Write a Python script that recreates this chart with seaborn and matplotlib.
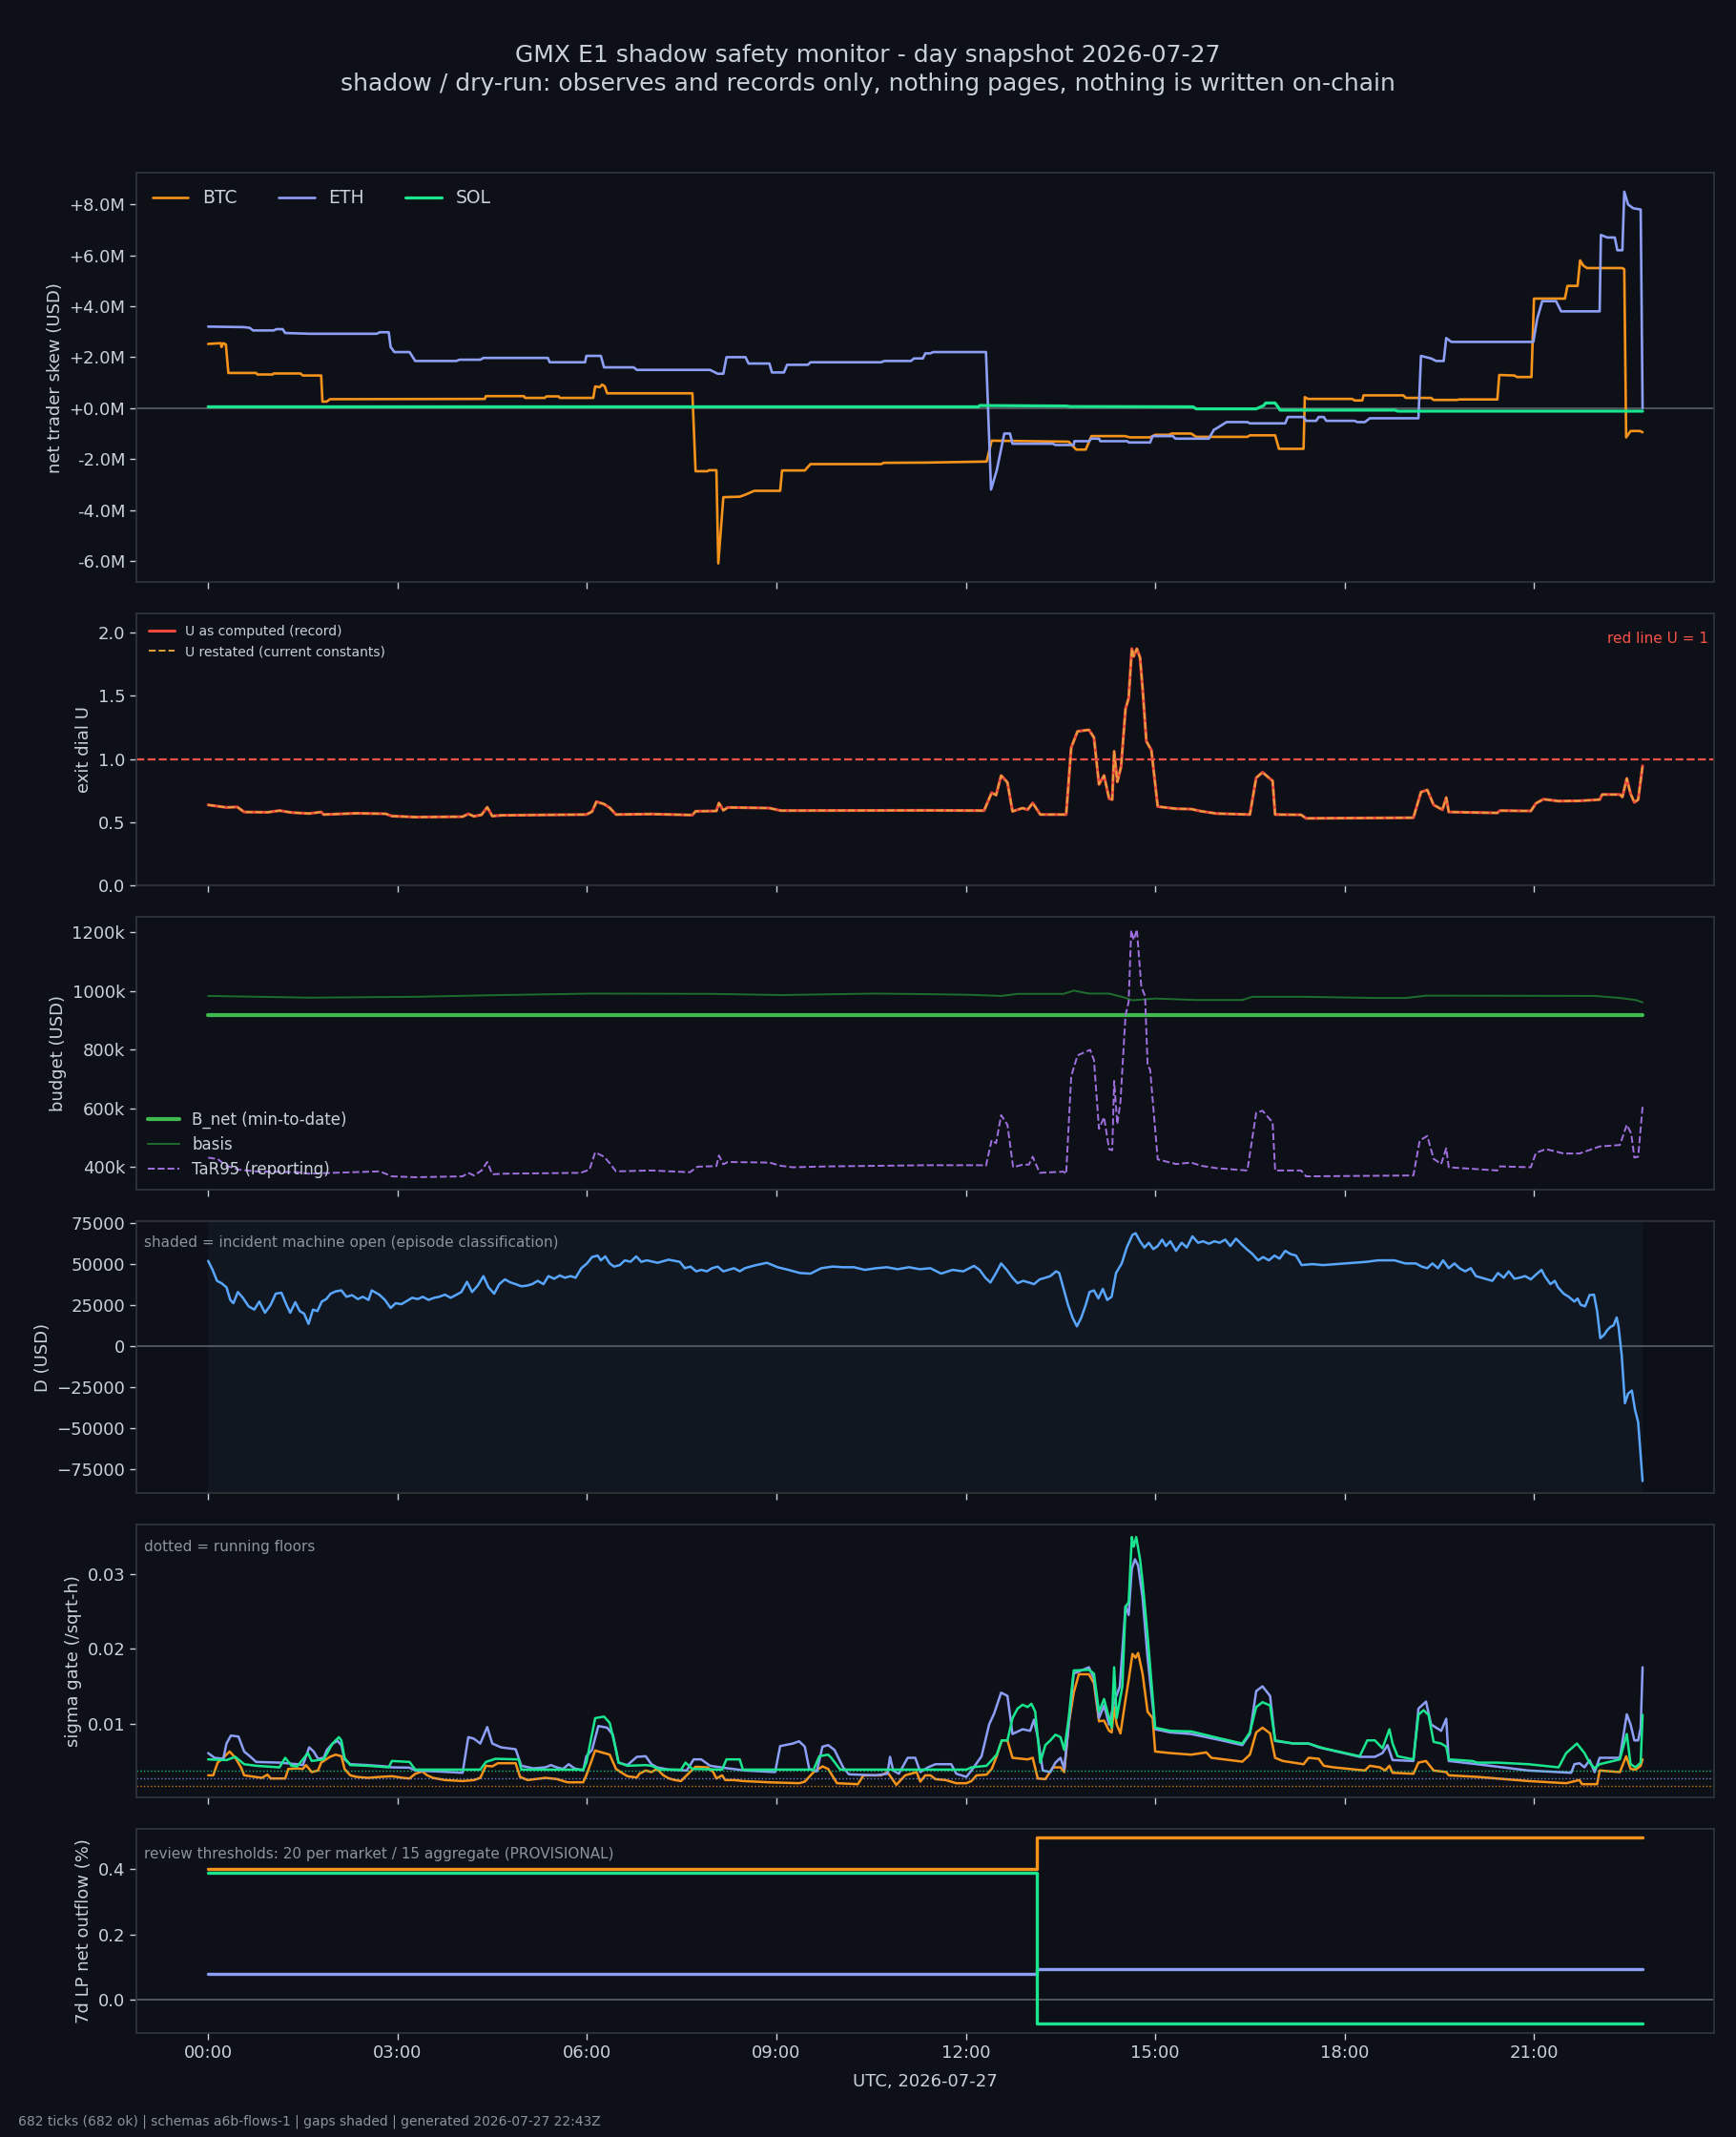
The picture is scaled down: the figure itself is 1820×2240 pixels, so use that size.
import matplotlib
matplotlib.use("Agg")
import matplotlib.pyplot as plt
import seaborn as sns
import pandas as pd
from matplotlib.ticker import FuncFormatter, FixedLocator, MultipleLocator

# ---------------- data (hours since 00:00 UTC, value) ----------------
HOUR_TICKS = [0, 3, 6, 9, 12, 15, 18, 21]
DATA_END_H = 22.72

BTC_SKEW_M = [(0.00, 2.52), (0.20, 2.55), (0.21, 2.40), (0.24, 2.55), (0.28, 2.50), (0.32, 1.38), (0.76, 1.38),
              (0.78, 1.32), (1.02, 1.32), (1.04, 1.36), (1.46, 1.36), (1.50, 1.28), (1.79, 1.28), (1.81, 0.25),
              (1.88, 0.26), (1.93, 0.35), (4.38, 0.36), (4.40, 0.47), (5.00, 0.47), (5.02, 0.40), (5.33, 0.40),
              (5.36, 0.46), (5.55, 0.46), (5.57, 0.40), (6.10, 0.40), (6.13, 0.85), (6.20, 0.82), (6.24, 0.92),
              (6.28, 0.86), (6.32, 0.58), (7.67, 0.58), (7.72, -2.48), (7.91, -2.48), (7.93, -2.44), (8.05, -2.44),
              (8.08, -6.10), (8.16, -3.50), (8.42, -3.48), (8.51, -3.40), (8.65, -3.25), (9.06, -3.25),
              (9.09, -2.45), (9.45, -2.45), (9.54, -2.20), (10.66, -2.20), (10.70, -2.15), (11.39, -2.14),
              (12.33, -2.10), (12.41, -1.28), (13.63, -1.32), (13.75, -1.63), (13.90, -1.63), (13.99, -1.10),
              (14.52, -1.10), (14.60, -1.15), (14.92, -1.15), (15.00, -1.05), (15.22, -1.05), (15.26, -1.00),
              (15.57, -1.00), (15.65, -1.13), (16.46, -1.13), (16.50, -1.07), (16.90, -1.07), (16.96, -1.60),
              (17.35, -1.60), (17.37, 0.43), (17.42, 0.36), (18.12, 0.36), (18.16, 0.30), (18.28, 0.30),
              (18.30, 0.50), (18.93, 0.50), (18.97, 0.40), (19.37, 0.40), (19.41, 0.32), (19.78, 0.32),
              (19.82, 0.34), (20.42, 0.34), (20.45, 1.30), (20.69, 1.28), (20.73, 1.22), (20.96, 1.22),
              (21.00, 4.30), (21.49, 4.30), (21.53, 4.80), (21.69, 4.80), (21.73, 5.80), (21.78, 5.60),
              (21.84, 5.50), (22.40, 5.50), (22.43, 5.45), (22.46, -1.15), (22.53, -0.90), (22.68, -0.90),
              (22.72, -0.95)]

ETH_SKEW_M = [(0.00, 3.20), (0.57, 3.18), (0.66, 3.15), (0.71, 3.05), (1.04, 3.05), (1.08, 3.10), (1.18, 3.10),
              (1.22, 2.95), (1.60, 2.92), (2.67, 2.92), (2.72, 2.98), (2.86, 2.98), (2.89, 2.40), (2.95, 2.20),
              (3.19, 2.20), (3.28, 1.85), (3.93, 1.85), (3.98, 1.90), (4.31, 1.90), (4.36, 1.97), (5.38, 1.97),
              (5.41, 1.80), (5.97, 1.80), (5.99, 2.05), (6.22, 2.05), (6.27, 1.60), (6.74, 1.60), (6.79, 1.50),
              (7.95, 1.50), (8.07, 1.35), (8.16, 1.35), (8.21, 2.00), (8.51, 2.00), (8.56, 1.75), (8.89, 1.75),
              (8.93, 1.40), (9.12, 1.40), (9.17, 1.70), (9.50, 1.70), (9.54, 1.80), (10.66, 1.80), (10.71, 1.85),
              (11.13, 1.85), (11.18, 1.95), (11.32, 1.95), (11.36, 2.15), (11.44, 2.15), (11.48, 2.20),
              (12.32, 2.20), (12.40, -3.20), (12.49, -2.45), (12.61, -1.00), (12.70, -1.00), (12.74, -1.40),
              (13.38, -1.40), (13.42, -1.45), (13.71, -1.45), (13.72, -1.30), (13.95, -1.30), (13.99, -1.20),
              (14.11, -1.20), (14.13, -1.30), (14.56, -1.30), (14.58, -1.35), (14.92, -1.35), (14.96, -1.10),
              (15.28, -1.10), (15.32, -1.20), (15.85, -1.20), (15.93, -0.85), (15.97, -0.80), (16.13, -0.55),
              (16.46, -0.55), (16.50, -0.60), (17.06, -0.60), (17.10, -0.35), (17.35, -0.35), (17.39, -0.50),
              (17.55, -0.50), (17.59, -0.35), (17.67, -0.35), (17.71, -0.50), (18.16, -0.50), (18.20, -0.55),
              (18.32, -0.55), (18.40, -0.40), (19.17, -0.40), (19.21, 2.05), (19.37, 1.95), (19.45, 1.85),
              (19.57, 1.85), (19.61, 2.75), (19.69, 2.60), (20.99, 2.60), (21.05, 3.50), (21.13, 4.20),
              (21.35, 4.20), (21.43, 3.80), (22.04, 3.80), (22.06, 6.80), (22.16, 6.70), (22.28, 6.70),
              (22.32, 6.20), (22.40, 6.20), (22.43, 8.50), (22.49, 8.00), (22.57, 7.85), (22.69, 7.80),
              (22.72, 0.00)]

SOL_SKEW_M = [(0.00, 0.05), (12.20, 0.05), (12.22, 0.10), (13.60, 0.08), (13.65, 0.06), (15.60, 0.05),
              (15.65, -0.03), (16.60, -0.03), (16.72, 0.10), (16.75, 0.20), (16.90, 0.20), (16.98, -0.08),
              (18.80, -0.08), (18.84, -0.12), (22.72, -0.12)]

U_RECORD = [(0.00, 0.638), (0.29, 0.618), (0.46, 0.622), (0.57, 0.582), (0.94, 0.580), (1.13, 0.593),
            (1.32, 0.578), (1.60, 0.570), (1.79, 0.582), (1.83, 0.562), (2.35, 0.572), (2.81, 0.568),
            (2.91, 0.550), (3.28, 0.542), (4.03, 0.545), (4.12, 0.567), (4.21, 0.548), (4.33, 0.560),
            (4.42, 0.620), (4.50, 0.550), (4.64, 0.556), (5.99, 0.562), (6.08, 0.585), (6.15, 0.663),
            (6.27, 0.645), (6.36, 0.615), (6.46, 0.562), (7.02, 0.566), (7.67, 0.558), (7.72, 0.588),
            (8.05, 0.590), (8.09, 0.653), (8.16, 0.595), (8.23, 0.618), (8.89, 0.613), (9.07, 0.593),
            (11.39, 0.595), (12.29, 0.593), (12.41, 0.734), (12.48, 0.715), (12.56, 0.870), (12.66, 0.815),
            (12.74, 0.587), (12.90, 0.613), (12.98, 0.600), (13.06, 0.653), (13.18, 0.562), (13.59, 0.562),
            (13.67, 1.090), (13.77, 1.218), (13.95, 1.230), (14.03, 1.170), (14.11, 0.800), (14.19, 0.870),
            (14.27, 0.688), (14.32, 0.680), (14.35, 1.060), (14.40, 0.820), (14.46, 0.940), (14.53, 1.395),
            (14.58, 1.480), (14.63, 1.870), (14.66, 1.810), (14.71, 1.870), (14.76, 1.800), (14.80, 1.560),
            (14.86, 1.140), (14.94, 1.070), (15.04, 0.625), (15.33, 0.608), (15.57, 0.605), (15.73, 0.588),
            (15.97, 0.570), (16.50, 0.562), (16.60, 0.852), (16.70, 0.895), (16.86, 0.827), (16.90, 0.562),
            (17.31, 0.560), (17.39, 0.532), (19.09, 0.537), (19.21, 0.739), (19.31, 0.756), (19.41, 0.638),
            (19.55, 0.600), (19.61, 0.696), (19.65, 0.582), (20.42, 0.575), (20.46, 0.593), (20.95, 0.590),
            (21.03, 0.650), (21.15, 0.683), (21.39, 0.668), (21.72, 0.670), (22.04, 0.680), (22.08, 0.720),
            (22.36, 0.720), (22.40, 0.700), (22.47, 0.847), (22.53, 0.725), (22.59, 0.658), (22.65, 0.680),
            (22.72, 0.946)]
U_RESTATED = list(U_RECORD)   # restated values coincide with the record on this day
U_RED_LINE = 1.0

B_NET_K = [(0.00, 919), (22.72, 919)]
BASIS_K = [(0.00, 983), (1.60, 977), (3.28, 980), (4.40, 985), (6.08, 991), (7.95, 990), (9.07, 986),
           (10.57, 991), (11.39, 989), (12.01, 987), (12.57, 983), (12.82, 990), (13.55, 990), (13.71, 1001),
           (13.95, 991), (14.27, 991), (14.52, 977), (14.64, 968), (15.00, 974), (15.65, 969), (16.38, 969),
           (16.54, 980), (17.35, 980), (18.48, 976), (18.97, 976), (19.29, 984), (21.96, 983), (22.36, 976),
           (22.61, 969), (22.72, 961)]
TAR95_K = [(0.00, 431), (0.15, 426), (0.29, 403), (0.48, 390), (0.76, 384), (1.41, 381), (1.60, 376),
           (1.97, 379), (2.72, 384), (2.91, 367), (3.28, 364), (4.03, 367), (4.12, 379), (4.21, 370),
           (4.33, 387), (4.42, 416), (4.50, 374), (4.68, 376), (5.90, 379), (6.04, 390), (6.13, 449),
           (6.27, 434), (6.36, 412), (6.46, 384), (7.02, 387), (7.63, 381), (7.75, 400), (8.05, 402),
           (8.09, 438), (8.16, 408), (8.23, 416), (8.89, 414), (9.07, 403), (9.26, 398), (9.82, 401),
           (11.39, 405), (12.25, 405), (12.32, 403), (12.41, 491), (12.48, 480), (12.56, 576), (12.66, 543),
           (12.75, 398), (12.90, 407), (13.00, 407), (13.06, 434), (13.17, 379), (13.55, 383), (13.59, 375),
           (13.67, 709), (13.77, 780), (13.97, 799), (14.03, 764), (14.11, 529), (14.19, 569), (14.27, 460),
           (14.32, 456), (14.35, 693), (14.40, 545), (14.45, 622), (14.53, 917), (14.58, 963), (14.62, 1207),
           (14.66, 1174), (14.71, 1210), (14.78, 1015), (14.84, 982), (14.88, 747), (14.92, 731), (15.04, 425),
           (15.33, 409), (15.57, 414), (15.73, 403), (15.97, 395), (16.46, 387), (16.60, 584), (16.70, 591),
           (16.86, 551), (16.90, 387), (17.31, 387), (17.39, 367), (19.09, 370), (19.19, 489), (19.31, 505),
           (19.41, 427), (19.53, 409), (19.61, 463), (19.65, 398), (20.42, 387), (20.46, 401), (20.95, 398),
           (21.03, 447), (21.19, 460), (21.47, 445), (21.72, 445), (22.04, 469), (22.36, 474), (22.47, 543),
           (22.54, 513), (22.59, 431), (22.65, 434), (22.72, 605)]

D_USD = [(0.00, 52050), (0.07, 46600), (0.14, 39900), (0.21, 38500), (0.29, 36000), (0.35, 28300), (0.40, 26300),
         (0.47, 33100), (0.55, 29600), (0.64, 24400), (0.73, 22400), (0.81, 27300), (0.90, 20500), (0.99, 25300),
         (1.07, 32100), (1.16, 32700), (1.24, 25300), (1.30, 20500), (1.38, 26900), (1.45, 21500), (1.52, 19900),
         (1.59, 13700), (1.66, 22400), (1.73, 21500), (1.80, 27300), (1.87, 28800), (1.94, 32100), (2.02, 33500),
         (2.11, 34100), (2.19, 30200), (2.28, 31200), (2.37, 28800), (2.45, 30200), (2.54, 28300), (2.59, 34100),
         (2.71, 31500), (2.80, 28300), (2.89, 23400), (2.97, 26300), (3.06, 25700), (3.15, 27700), (3.23, 29600),
         (3.32, 28800), (3.40, 30200), (3.49, 28300), (3.58, 29600), (3.66, 30200), (3.75, 31500), (3.84, 29600),
         (3.92, 31200), (4.01, 33100), (4.10, 39300), (4.18, 33100), (4.27, 37000), (4.36, 42800), (4.44, 36000),
         (4.53, 32100), (4.61, 37900), (4.70, 40800), (4.79, 38900), (4.87, 37900), (4.96, 36600), (5.05, 37000),
         (5.13, 37900), (5.22, 39900), (5.31, 37900), (5.39, 42800), (5.48, 41200), (5.57, 43200), (5.65, 41800),
         (5.74, 42800), (5.82, 41800), (5.91, 47600), (6.00, 50500), (6.08, 54400), (6.17, 55300), (6.22, 52400),
         (6.29, 54800), (6.36, 50500), (6.43, 48600), (6.52, 49500), (6.60, 52400), (6.69, 51500), (6.78, 54800),
         (6.86, 51500), (6.95, 52400), (7.12, 50900), (7.29, 52800), (7.47, 51500), (7.55, 47600), (7.64, 48600),
         (7.73, 45700), (7.81, 46600), (7.90, 45700), (7.98, 47600), (8.07, 48600), (8.16, 45700), (8.24, 46600),
         (8.33, 47600), (8.42, 45700), (8.50, 47600), (8.59, 48600), (8.68, 49500), (8.85, 50900), (8.94, 49500),
         (9.02, 48200), (9.19, 46600), (9.37, 44700), (9.54, 44300), (9.71, 47600), (9.89, 48600), (10.06, 48200),
         (10.23, 48200), (10.40, 46600), (10.58, 47600), (10.75, 48200), (10.92, 47000), (11.10, 48200),
         (11.27, 47000), (11.44, 47600), (11.61, 44300), (11.79, 46600), (11.96, 45700), (12.13, 49000),
         (12.22, 46600), (12.31, 41800), (12.39, 38900), (12.48, 44700), (12.56, 50500), (12.65, 46600),
         (12.74, 41800), (12.82, 38500), (12.91, 39900), (13.00, 38900), (13.08, 37900), (13.17, 40800),
         (13.26, 41800), (13.34, 42800), (13.43, 45700), (13.48, 44700), (13.55, 35000), (13.62, 25300),
         (13.69, 17600), (13.76, 12200), (13.83, 17600), (13.90, 25300), (13.96, 33100), (14.03, 34100),
         (14.10, 29200), (14.17, 35000), (14.24, 28300), (14.31, 30200), (14.38, 44700), (14.47, 50500),
         (14.55, 60200), (14.64, 67900), (14.69, 68900), (14.76, 64000), (14.83, 60200), (14.90, 63100),
         (14.97, 59200), (15.04, 61100), (15.11, 65000), (15.17, 61100), (15.24, 64000), (15.33, 58200),
         (15.42, 63100), (15.50, 60200), (15.59, 67000), (15.68, 63100), (15.76, 64000), (15.85, 62500),
         (15.94, 64000), (16.02, 63100), (16.11, 65000), (16.19, 61100), (16.28, 65600), (16.37, 62100),
         (16.45, 59200), (16.54, 56300), (16.63, 52400), (16.71, 54400), (16.80, 52400), (16.89, 55300),
         (16.97, 53400), (17.06, 58200), (17.14, 56300), (17.23, 55300), (17.32, 49500), (17.49, 50100),
         (17.66, 49500), (18.01, 50500), (18.35, 51500), (18.53, 52400), (18.79, 52400), (18.96, 50500),
         (19.13, 50500), (19.22, 48600), (19.31, 47600), (19.39, 50500), (19.48, 47600), (19.56, 52400),
         (19.65, 47600), (19.74, 50500), (19.82, 47600), (19.91, 45700), (20.00, 47600), (20.08, 42800),
         (20.17, 41800), (20.26, 40800), (20.34, 39900), (20.43, 44700), (20.52, 41800), (20.60, 45700),
         (20.69, 41200), (20.77, 41800), (20.86, 42800), (20.95, 40800), (21.03, 43700), (21.12, 46600),
         (21.17, 42800), (21.26, 37900), (21.33, 39900), (21.38, 36000), (21.47, 32100), (21.55, 30200),
         (21.64, 27300), (21.69, 29200), (21.74, 25300), (21.81, 24400), (21.88, 31200), (21.95, 31500),
         (22.00, 21500), (22.05, 5000), (22.11, 7000), (22.16, 9900), (22.21, 11800), (22.26, 12800),
         (22.31, 17600), (22.34, 11800), (22.39, -5600), (22.44, -34600), (22.49, -28800), (22.55, -26900),
         (22.60, -38500), (22.65, -46200), (22.72, -82000)]
EPISODE_OPEN_H = (0.0, 22.72)

SIGMA_BTC = [(0.00, 0.00319), (0.08, 0.00319), (0.15, 0.00488), (0.24, 0.00552), (0.34, 0.00636), (0.43, 0.00552),
             (0.52, 0.00425), (0.57, 0.00319), (0.85, 0.00285), (0.94, 0.00328), (0.99, 0.00277), (1.22, 0.00277),
             (1.27, 0.00404), (1.41, 0.00412), (1.50, 0.00404), (1.55, 0.00455), (1.64, 0.00362), (1.74, 0.00383),
             (1.79, 0.00488), (1.93, 0.00565), (2.02, 0.00594), (2.11, 0.00573), (2.16, 0.00404), (2.25, 0.00319),
             (2.35, 0.00298), (2.53, 0.00285), (2.72, 0.00298), (2.91, 0.00307), (3.09, 0.00285), (3.19, 0.00277),
             (3.28, 0.00340), (3.39, 0.00370), (3.47, 0.00319), (3.56, 0.00285), (3.75, 0.00256), (4.03, 0.00243),
             (4.21, 0.00256), (4.31, 0.00285), (4.40, 0.00446), (4.50, 0.00438), (4.59, 0.00480), (4.87, 0.00480),
             (4.94, 0.00298), (5.06, 0.00256), (5.34, 0.00285), (5.52, 0.00270), (5.69, 0.00226), (5.94, 0.00226),
             (5.99, 0.00319), (6.13, 0.00649), (6.36, 0.00594), (6.46, 0.00404), (6.55, 0.00353), (6.64, 0.00307),
             (6.79, 0.00290), (6.83, 0.00340), (6.93, 0.00383), (7.02, 0.00362), (7.11, 0.00404), (7.21, 0.00319),
             (7.30, 0.00277), (7.39, 0.00256), (7.49, 0.00243), (7.63, 0.00362), (7.72, 0.00433), (7.91, 0.00425),
             (8.00, 0.00362), (8.05, 0.00277), (8.14, 0.00319), (8.19, 0.00256), (8.33, 0.00256), (8.47, 0.00243),
             (8.89, 0.00226), (9.36, 0.00214), (9.45, 0.00235), (9.59, 0.00362), (9.73, 0.00438), (9.82, 0.00404),
             (9.96, 0.00214), (10.29, 0.00201), (10.38, 0.00319), (10.66, 0.00319), (10.76, 0.00362),
             (10.90, 0.00192), (11.04, 0.00319), (11.22, 0.00362), (11.28, 0.00235), (11.36, 0.00319),
             (11.44, 0.00319), (11.52, 0.00268), (11.68, 0.00256), (11.85, 0.00214), (12.01, 0.00214),
             (12.09, 0.00243), (12.17, 0.00319), (12.33, 0.00328), (12.41, 0.00404), (12.49, 0.00573),
             (12.57, 0.00784), (12.66, 0.00784), (12.74, 0.00552), (12.98, 0.00531), (13.06, 0.00552),
             (13.14, 0.00277), (13.26, 0.00268), (13.38, 0.00425), (13.50, 0.00425), (13.56, 0.00362),
             (13.63, 0.00996), (13.71, 0.01419), (13.79, 0.01664), (13.95, 0.01664), (14.03, 0.01545),
             (14.11, 0.01038), (14.19, 0.01047), (14.27, 0.00911), (14.31, 0.00890), (14.35, 0.01228),
             (14.39, 0.00996), (14.45, 0.00877), (14.52, 0.01271), (14.58, 0.01588), (14.64, 0.01934),
             (14.69, 0.01884), (14.73, 0.01947), (14.80, 0.01672), (14.88, 0.01165), (14.96, 0.01080),
             (15.00, 0.00636), (15.24, 0.00615), (15.57, 0.00594), (15.81, 0.00624), (15.89, 0.00552),
             (16.38, 0.00501), (16.50, 0.00594), (16.60, 0.00890), (16.70, 0.00953), (16.82, 0.00877),
             (16.90, 0.00552), (17.02, 0.00510), (17.35, 0.00467), (17.43, 0.00552), (17.59, 0.00539),
             (17.67, 0.00446), (17.83, 0.00425), (18.32, 0.00383), (18.40, 0.00446), (18.56, 0.00425),
             (18.64, 0.00383), (18.71, 0.00446), (18.76, 0.00353), (19.09, 0.00340), (19.17, 0.00488),
             (19.29, 0.00510), (19.41, 0.00383), (19.61, 0.00362), (19.65, 0.00319), (20.10, 0.00298),
             (20.91, 0.00243), (21.51, 0.00214), (21.72, 0.00256), (21.76, 0.00201), (22.00, 0.00201),
             (22.04, 0.00383), (22.36, 0.00362), (22.46, 0.00573), (22.53, 0.00404), (22.61, 0.00395),
             (22.69, 0.00446), (22.72, 0.00531)]

SIGMA_ETH = [(0.00, 0.00615), (0.10, 0.00552), (0.24, 0.00539), (0.29, 0.00742), (0.36, 0.00848), (0.48, 0.00835),
             (0.57, 0.00636), (0.66, 0.00573), (0.76, 0.00497), (1.13, 0.00488), (1.41, 0.00467), (1.50, 0.00455),
             (1.60, 0.00691), (1.67, 0.00636), (1.74, 0.00539), (1.83, 0.00552), (1.88, 0.00657), (1.97, 0.00742),
             (2.05, 0.00776), (2.11, 0.00721), (2.16, 0.00531), (2.25, 0.00467), (2.53, 0.00455), (2.81, 0.00438),
             (2.91, 0.00425), (3.19, 0.00421), (3.28, 0.00383), (3.65, 0.00370), (4.03, 0.00353), (4.12, 0.00827),
             (4.21, 0.00806), (4.31, 0.00742), (4.42, 0.00962), (4.50, 0.00742), (4.64, 0.00691), (4.87, 0.00666),
             (4.96, 0.00446), (5.15, 0.00412), (5.34, 0.00425), (5.43, 0.00455), (5.52, 0.00425), (5.62, 0.00404),
             (5.71, 0.00467), (5.80, 0.00412), (5.94, 0.00383), (5.99, 0.00573), (6.08, 0.00657), (6.18, 0.00975),
             (6.32, 0.00953), (6.41, 0.00860), (6.50, 0.00488), (6.64, 0.00455), (6.79, 0.00565), (6.93, 0.00573),
             (7.02, 0.00467), (7.11, 0.00425), (7.30, 0.00395), (7.58, 0.00383), (7.69, 0.00531), (7.81, 0.00531),
             (7.95, 0.00446), (8.23, 0.00412), (8.51, 0.00383), (8.98, 0.00362), (9.06, 0.00708), (9.26, 0.00742),
             (9.36, 0.00772), (9.45, 0.00700), (9.52, 0.00404), (9.64, 0.00370), (9.73, 0.00700), (9.82, 0.00721),
             (9.92, 0.00657), (10.06, 0.00421), (10.15, 0.00332), (10.57, 0.00319), (10.76, 0.00340),
             (10.80, 0.00565), (10.85, 0.00383), (10.94, 0.00340), (11.08, 0.00552), (11.20, 0.00552),
             (11.28, 0.00362), (11.40, 0.00425), (11.52, 0.00467), (11.77, 0.00467), (11.85, 0.00340),
             (12.01, 0.00298), (12.09, 0.00383), (12.25, 0.00573), (12.37, 0.00996), (12.45, 0.01144),
             (12.56, 0.01419), (12.66, 0.01376), (12.74, 0.00869), (12.90, 0.00932), (13.02, 0.00911),
             (13.08, 0.01059), (13.14, 0.00827), (13.22, 0.00383), (13.34, 0.00362), (13.42, 0.00488),
             (13.50, 0.00552), (13.56, 0.00404), (13.63, 0.00996), (13.71, 0.01672), (13.95, 0.01757),
             (14.03, 0.01609), (14.11, 0.01080), (14.19, 0.01249), (14.27, 0.00996), (14.35, 0.01292),
             (14.44, 0.01503), (14.53, 0.02569), (14.58, 0.02454), (14.63, 0.03067), (14.68, 0.03194),
             (14.73, 0.03110), (14.80, 0.02687), (14.88, 0.01884), (15.00, 0.00932), (15.24, 0.00890),
             (15.57, 0.00869), (16.05, 0.00784), (16.38, 0.00721), (16.50, 0.00869), (16.60, 0.01440),
             (16.70, 0.01503), (16.82, 0.01376), (16.90, 0.00776), (17.19, 0.00742), (17.43, 0.00742),
             (17.59, 0.00691), (18.24, 0.00565), (18.48, 0.00565), (18.60, 0.00615), (18.68, 0.00721),
             (18.76, 0.00522), (19.09, 0.00510), (19.17, 0.01207), (19.29, 0.01300), (19.37, 0.00996),
             (19.53, 0.00911), (19.61, 0.01072), (19.65, 0.00510), (20.10, 0.00467), (20.91, 0.00383),
             (21.59, 0.00353), (21.64, 0.00467), (21.72, 0.00480), (21.80, 0.00425), (21.88, 0.00522),
             (21.96, 0.00362), (22.04, 0.00552), (22.36, 0.00552), (22.47, 0.01131), (22.53, 0.00996),
             (22.59, 0.00784), (22.65, 0.00784), (22.69, 0.00953), (22.72, 0.01757)]

SIGMA_SOL = [(0.00, 0.00531), (0.29, 0.00522), (0.43, 0.00565), (0.57, 0.00467), (0.76, 0.00446), (1.13, 0.00425),
             (1.22, 0.00552), (1.32, 0.00446), (1.41, 0.00438), (1.58, 0.00615), (1.64, 0.00510), (1.83, 0.00531),
             (1.97, 0.00742), (2.07, 0.00827), (2.11, 0.00784), (2.16, 0.00552), (2.25, 0.00455), (2.53, 0.00446),
             (2.86, 0.00425), (2.91, 0.00510), (3.19, 0.00497), (3.28, 0.00395), (4.31, 0.00395), (4.40, 0.00497),
             (4.55, 0.00539), (4.92, 0.00531), (4.96, 0.00395), (5.94, 0.00395), (5.99, 0.00488), (6.13, 0.01080),
             (6.27, 0.01101), (6.36, 0.01017), (6.46, 0.00657), (6.50, 0.00488), (6.64, 0.00446), (6.93, 0.00455),
             (7.02, 0.00446), (7.16, 0.00395), (7.49, 0.00395), (7.56, 0.00488), (7.67, 0.00404), (8.14, 0.00395),
             (8.21, 0.00531), (8.42, 0.00531), (8.47, 0.00395), (9.59, 0.00395), (9.68, 0.00573), (9.82, 0.00594),
             (9.87, 0.00552), (10.01, 0.00395), (12.01, 0.00395), (12.09, 0.00425), (12.33, 0.00446),
             (12.49, 0.00594), (12.57, 0.00784), (12.66, 0.00784), (12.74, 0.01080), (12.82, 0.01207),
             (12.90, 0.01258), (12.98, 0.01228), (13.04, 0.01271), (13.10, 0.01165), (13.18, 0.00488),
             (13.26, 0.00721), (13.34, 0.00784), (13.42, 0.00860), (13.50, 0.00827), (13.56, 0.00657),
             (13.63, 0.01080), (13.71, 0.01715), (13.95, 0.01723), (14.03, 0.01672), (14.11, 0.01165),
             (14.19, 0.01334), (14.27, 0.01080), (14.31, 0.00953), (14.35, 0.01757), (14.39, 0.01080),
             (14.48, 0.01503), (14.53, 0.02560), (14.58, 0.02624), (14.63, 0.03490), (14.66, 0.03363),
             (14.70, 0.03490), (14.76, 0.03194), (14.80, 0.02898), (14.88, 0.02180), (15.00, 0.00953),
             (15.24, 0.00911), (15.57, 0.00903), (16.05, 0.00806), (16.38, 0.00742), (16.50, 0.00890),
             (16.60, 0.01228), (16.70, 0.01292), (16.82, 0.01249), (16.90, 0.00784), (17.19, 0.00742),
             (17.43, 0.00742), (17.67, 0.00679), (18.24, 0.00573), (18.36, 0.00784), (18.48, 0.00784),
             (18.60, 0.00679), (18.71, 0.00932), (18.76, 0.00742), (18.84, 0.00573), (19.09, 0.00531),
             (19.17, 0.01123), (19.25, 0.01186), (19.33, 0.01123), (19.41, 0.00764), (19.53, 0.00742),
             (19.61, 0.00700), (19.65, 0.00531), (20.02, 0.00510), (20.10, 0.00488), (20.42, 0.00488),
             (20.91, 0.00467), (21.39, 0.00425), (21.51, 0.00615), (21.68, 0.00742), (21.80, 0.00615),
             (21.88, 0.00488), (21.96, 0.00412), (22.04, 0.00467), (22.36, 0.00531), (22.47, 0.00869),
             (22.53, 0.00467), (22.61, 0.00425), (22.69, 0.00488), (22.72, 0.01123)]

SIGMA_FLOOR = {"BTC": 0.00184, "ETH": 0.00285, "SOL": 0.00387}

LP_T = [0.0, 13.13, 22.72]
LP_BTC = [0.401, 0.496, 0.496]
LP_ETH = [0.080, 0.095, 0.095]
LP_SOL = [0.389, -0.072, -0.072]

# ---------------- style ----------------
BG = "#0d1117"
FG = "#c9d1d9"
MUTED = "#8b949e"
SPINE = "#30363d"
ZERO = "#5a6169"
COL = {"BTC": "#f7931a", "ETH": "#8c9ef5", "SOL": "#19e68f"}

sns.set_theme(style="dark", rc={
    "figure.facecolor": BG, "axes.facecolor": BG, "savefig.facecolor": BG,
    "axes.edgecolor": SPINE, "axes.labelcolor": FG, "text.color": FG,
    "xtick.color": FG, "ytick.color": FG, "axes.grid": False,
    "xtick.bottom": True, "ytick.left": True,
})
plt.rcParams["font.family"] = ["DejaVu Sans"]

fig = plt.figure(figsize=(18.2, 22.4), dpi=100)
gs = fig.add_gridspec(6, 1, height_ratios=[3, 2, 2, 2, 2, 1.5], left=0.0786, right=0.9875,
                      top=0.919, bottom=0.0487, hspace=0.11)
axes = []
for i in range(6):
    axes.append(fig.add_subplot(gs[i], sharex=axes[0] if axes else None))


def df_of(pairs):
    return pd.DataFrame(pairs, columns=["h", "v"])


def draw(ax, pairs, scale=1.0, **kw):
    d = df_of(pairs)
    d["v"] = d["v"] * scale
    sns.lineplot(data=d, x="h", y="v", ax=ax, estimator=None, sort=False, **kw)


for ax in axes:
    ax.set_facecolor(BG)
    for s in ax.spines.values():
        s.set_color(SPINE)
        s.set_linewidth(1.2)
    ax.tick_params(axis="both", labelsize=13, colors=FG, length=5, width=1)
    ax.set_xlabel("")

# Panel 1: skew
ax = axes[0]
ax.axhline(0, color=ZERO, lw=1.2)
draw(ax, BTC_SKEW_M, 1e6, color=COL["BTC"], lw=1.9, label="BTC")
draw(ax, ETH_SKEW_M, 1e6, color=COL["ETH"], lw=1.9, label="ETH")
draw(ax, SOL_SKEW_M, 1e6, color=COL["SOL"], lw=2.3, label="SOL")
ax.yaxis.set_major_locator(MultipleLocator(2e6))
ax.yaxis.set_major_formatter(FuncFormatter(lambda v, _: f"{v/1e6:+.1f}M"))
ax.set_ylabel("net trader skew (USD)", fontsize=13)
ax.legend(loc="upper left", ncol=3, frameon=False, fontsize=13.5, columnspacing=2.3,
          handlelength=2.0, labelcolor=FG)

# Panel 2: U
ax = axes[1]
ax.axhline(U_RED_LINE, color="#f85149", lw=1.6, ls="--")
draw(ax, U_RECORD, color="#f0483e", lw=2.2, label="U as computed (record)")
draw(ax, U_RESTATED, color="#e3a23a", lw=1.4, linestyle="--", label="U restated (current constants)")
ax.set_ylim(0, 2.15)
ax.yaxis.set_major_locator(MultipleLocator(0.5))
ax.yaxis.set_major_formatter(FuncFormatter(lambda v, _: f"{v:.1f}"))
ax.set_ylabel("exit dial U", fontsize=13)
ax.legend(loc="upper left", frameon=False, fontsize=10, labelcolor=FG, handlelength=2.0)
ax.text(0.996, 0.905, "red line U = 1", transform=ax.transAxes, ha="right", va="center",
        color="#f85149", fontsize=11)

# Panel 3: budget
ax = axes[2]
draw(ax, B_NET_K, 1e3, color="#3fb950", lw=3.0, label="B_net (min-to-date)")
draw(ax, BASIS_K, 1e3, color="#1f6d2e", lw=1.4, label="basis")
draw(ax, TAR95_K, 1e3, color="#a06fe0", lw=1.4, linestyle="--", label="TaR95 (reporting)")
ax.yaxis.set_major_locator(MultipleLocator(200000))
ax.yaxis.set_major_formatter(FuncFormatter(lambda v, _: f"{v/1e3:.0f}k"))
ax.set_ylabel("budget (USD)", fontsize=13)
ax.legend(loc="lower left", frameon=False, fontsize=12, labelcolor=FG, handlelength=2.0,
          borderaxespad=0.3)

# Panel 4: D
ax = axes[3]
ax.axvspan(EPISODE_OPEN_H[0], EPISODE_OPEN_H[1], color="#58a6ff", alpha=0.045, lw=0)
ax.axhline(0, color=ZERO, lw=1.2)
draw(ax, D_USD, color="#58a6ff", lw=1.8, legend=False)
ax.yaxis.set_major_locator(MultipleLocator(25000))
ax.set_ylabel("D (USD)", fontsize=13)
ax.text(0.005, 0.92, "shaded = incident machine open (episode classification)", transform=ax.transAxes,
        ha="left", va="center", color=MUTED, fontsize=11)

# Panel 5: sigma
ax = axes[4]
for k, pairs in (("BTC", SIGMA_BTC), ("ETH", SIGMA_ETH), ("SOL", SIGMA_SOL)):
    draw(ax, pairs, color=COL[k], lw=1.8, legend=False)
for k in ("BTC", "ETH", "SOL"):
    ax.axhline(SIGMA_FLOOR[k], color=COL[k], lw=1.0, ls=":", alpha=0.8)
ax.yaxis.set_major_locator(MultipleLocator(0.01))
ax.yaxis.set_major_formatter(FuncFormatter(lambda v, _: f"{v:.2f}"))
ax.set_ylabel("sigma gate (/sqrt-h)", fontsize=13)
ax.text(0.005, 0.92, "dotted = running floors", transform=ax.transAxes,
        ha="left", va="center", color=MUTED, fontsize=11)

# Panel 6: LP outflow
ax = axes[5]
ax.axhline(0, color=ZERO, lw=1.2)
for k, vals in (("BTC", LP_BTC), ("ETH", LP_ETH), ("SOL", LP_SOL)):
    draw(ax, list(zip(LP_T, vals)), color=COL[k], lw=2.4, drawstyle="steps-post", legend=False)
ax.yaxis.set_major_locator(MultipleLocator(0.2))
ax.yaxis.set_major_formatter(FuncFormatter(lambda v, _: f"{v:.1f}"))
ax.set_ylabel("7d LP net outflow (%)", fontsize=13)
ax.text(0.005, 0.873, "review thresholds: 20 per market / 15 aggregate (PROVISIONAL)", transform=ax.transAxes,
        ha="left", va="center", color=MUTED, fontsize=11)

# shared x axis
axes[0].set_xlim(-0.05 * DATA_END_H, DATA_END_H * 1.05)
axes[0].xaxis.set_major_locator(FixedLocator(HOUR_TICKS))
axes[0].xaxis.set_major_formatter(FuncFormatter(lambda v, _: f"{int(round(v)):02d}:00"))
for ax in axes[:-1]:
    ax.tick_params(labelbottom=False)
    ax.set_xlabel("")
axes[-1].set_xlabel("UTC, 2026-07-27", fontsize=13, color=FG, labelpad=9)

fig.text(0.5, 1 - 58.5 / 2240, "GMX E1 shadow safety monitor - day snapshot 2026-07-27",
         ha="center", va="center", fontsize=18, color=FG)
fig.text(0.5, 1 - 88.5 / 2240,
         "shadow / dry-run: observes and records only, nothing pages, nothing is written on-chain",
         ha="center", va="center", fontsize=18, color=FG)
fig.text(0.0102, 1 - 2224 / 2240,
         "682 ticks (682 ok) | schemas a6b-flows-1 | gaps shaded | generated 2026-07-27 22:43Z",
         ha="left", va="center", fontsize=10, color=MUTED)

fig.savefig("out.png", dpi=100, facecolor=BG)
